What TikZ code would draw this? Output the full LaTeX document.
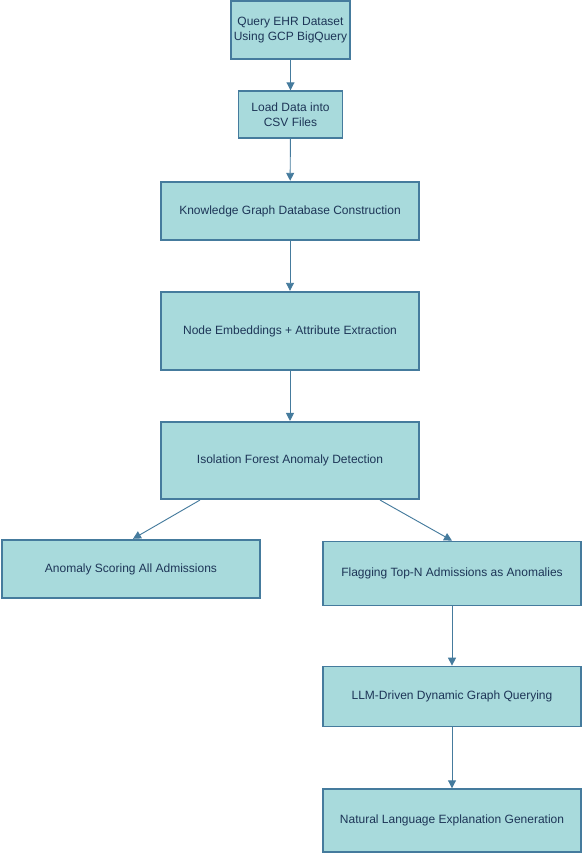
\documentclass[tikz,border=0pt]{standalone}
\usepackage{fontspec}
\setmainfont{Liberation Sans}
\usepackage{xcolor}
\usetikzlibrary{arrows.meta}

\definecolor{boxfill}{HTML}{A8DADC}
\definecolor{boxline}{HTML}{457B9D}
\definecolor{boxtext}{HTML}{1D3557}

\tikzset{
	stagebox/.style={draw=boxline, fill=boxfill, line width=1.3pt, text=boxtext,
		font=\fontsize{9}{11}\selectfont, align=center, inner sep=0pt},
	flow/.style={draw=boxline, line width=0.7pt, -{Triangle[length=6pt, width=6pt]}}
}

\begin{document}
\begin{tikzpicture}[x=0.75pt, y=-0.75pt]
					\useasboundingbox (0,0) rectangle (583,854);

					\begin{scope}[every node/.append style={stagebox}]
						\node[minimum width=89pt, minimum height=44pt] (query) at (290.5,30) {Query EHR Dataset\\Using GCP BigQuery};
						\node[minimum width=78pt, minimum height=35pt] (load) at (290.5,114.5) {Load Data into\\CSV Files};
						\node[minimum width=194pt, minimum height=44pt] (graph) at (290,211) {Knowledge Graph Database Construction};
						\node[minimum width=194pt, minimum height=59pt] (embed) at (290,331) {Node Embeddings + Attribute Extraction};
						\node[minimum width=194pt, minimum height=58pt] (forest) at (290,460.5) {Isolation Forest Anomaly Detection};
						\node[minimum width=194pt, minimum height=44pt] (score) at (131,569) {Anomaly Scoring All Admissions};
						\node[minimum width=194pt, minimum height=48pt] (flag) at (452,573.5) {Flagging Top-N Admissions as Anomalies};
						\node[minimum width=194pt, minimum height=45pt] (llm) at (452,696.5) {LLM-Driven Dynamic Graph Querying};
						\node[minimum width=194pt, minimum height=47pt] (explain) at (452,820.5) {Natural Language Explanation Generation};
					\end{scope}

					\begin{scope}[flow]
						\draw (query) -- (load);
						\draw (load) -- (graph);
						\draw (graph) -- (embed);
						\draw (embed) -- (forest);
						\draw ([xshift=-67.5pt]forest.south) -- ([xshift=1.5pt]score.north);
						\draw ([xshift=67.5pt]forest.south) -- (flag.north);
						\draw (flag) -- (llm);
						\draw (llm) -- (explain);
					\end{scope}
				\end{tikzpicture}
\end{document}
